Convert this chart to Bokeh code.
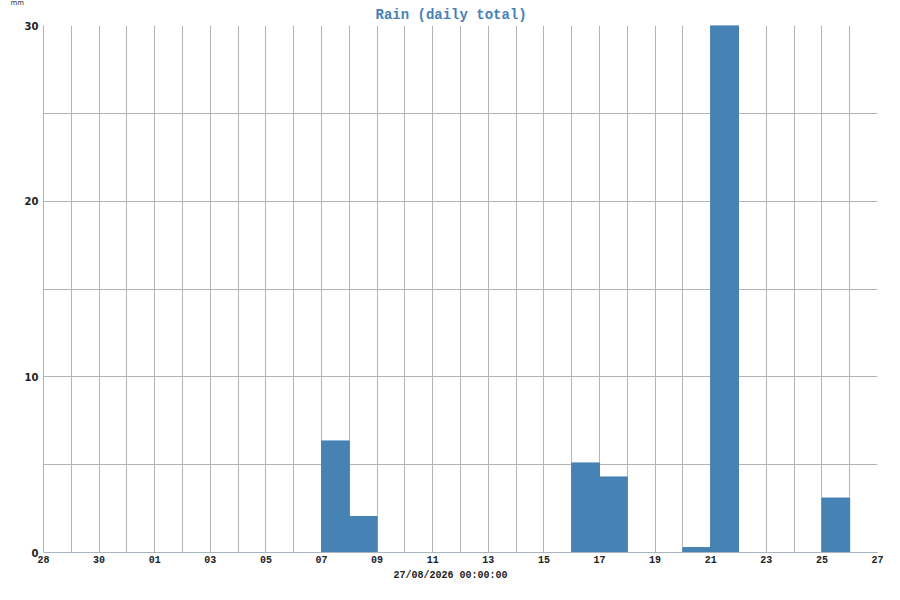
from datetime import datetime, timedelta
from bokeh.plotting import figure
from bokeh.models import ColumnDataSource, FixedTicker, Range1d, Title
from bokeh.embed import file_html
from bokeh.resources import INLINE

# ---- data ----
rain_dates = ["2026-08-07", "2026-08-08", "2026-08-16", "2026-08-17",
              "2026-08-20", "2026-08-21", "2026-08-25"]
rain_mm = [6.35, 2.05, 5.1, 4.3, 0.28, 30.0, 3.1]
x_start = "2026-07-28"
x_end = "2026-08-27"
y_ticks = [0, 10, 20, 30]
y_grid = [0, 5, 10, 15, 20, 25, 30]
title_text = "Rain (daily total)"
unit_text = "mm"
x_label = "27/08/2026 00:00:00"

BLUE = "#4682b4"
H = 584
TOP = 24
BOTTOM = 32

def ms(d):
    return (d - datetime(1970, 1, 1)).total_seconds() * 1000.0

day = timedelta(days=1)
left = [datetime.fromisoformat(d) for d in rain_dates]
right = [d + day for d in left]
src = ColumnDataSource(dict(left=left, right=right, top=rain_mm, bottom=[0] * len(rain_mm)))

d0 = datetime.fromisoformat(x_start)
d1 = datetime.fromisoformat(x_end)
all_days = []
d = d0
while d <= d1:
    all_days.append(d)
    d += day
tick_days = all_days[::2]

p = figure(width=884, height=H, x_axis_type="datetime",
           output_backend="svg", toolbar_location=None,
           min_border_left=43, min_border_right=7,
           min_border_top=TOP, min_border_bottom=BOTTOM)
p.x_range = Range1d(ms(d0), ms(d1))
p.y_range = Range1d(0, 30)

p.quad(left="left", right="right", top="top", bottom="bottom", source=src,
       fill_color=BLUE, line_color=BLUE, line_width=1)

p.xaxis.ticker = FixedTicker(ticks=[ms(t) for t in tick_days])
p.xaxis.major_label_overrides = {ms(t): t.strftime("%d") for t in tick_days}
p.xgrid.ticker = FixedTicker(ticks=[ms(t) for t in all_days])
p.yaxis.ticker = FixedTicker(ticks=y_ticks)
p.ygrid.ticker = FixedTicker(ticks=y_grid)

for g in (p.xgrid, p.ygrid):
    g.grid_line_color = "#b4b4b4"
    g.grid_line_width = 1
    g.grid_line_alpha = 1.0

p.outline_line_color = None
p.background_fill_color = "white"
p.border_fill_color = "white"

for ax in (p.xaxis, p.yaxis):
    ax.major_tick_line_color = None
    ax.minor_tick_line_color = None
    ax.major_tick_out = 0
    ax.major_tick_in = 0
    ax.minor_tick_out = 0
    ax.minor_tick_in = 0
    ax.axis_line_color = "#a8b4c0"
    ax.major_label_text_font_style = "bold"
    ax.major_label_text_color = "#222222"

p.xaxis.major_label_text_font = "Liberation Mono"
p.xaxis.major_label_text_font_size = "10px"
p.xaxis.major_label_standoff = 3

p.yaxis.major_label_text_font = "DejaVu Sans"
p.yaxis.major_label_text_font_size = "10px"
p.yaxis.major_label_standoff = 5

# unit label (outermost, top-left)
p.title.text = unit_text
p.title.align = "left"
p.title.offset = -33
p.title.text_font = "DejaVu Sans"
p.title.text_font_style = "normal"
p.title.text_font_size = "7px"
p.title.text_color = "#333333"
p.title.standoff = -8

# main title
p.add_layout(Title(text=title_text, align="left", offset=332, standoff=5,
                   text_line_height=0.8,
                   text_font="Liberation Mono", text_font_style="bold",
                   text_font_size="14px", text_color=BLUE), "above")

p.add_layout(Title(text=x_label, align="left", offset=350, standoff=5,
                   text_font="Liberation Mono", text_font_style="bold",
                   text_font_size="10px", text_color="#222222"), "below")

open("out.html", "w").write(file_html(p, INLINE))
